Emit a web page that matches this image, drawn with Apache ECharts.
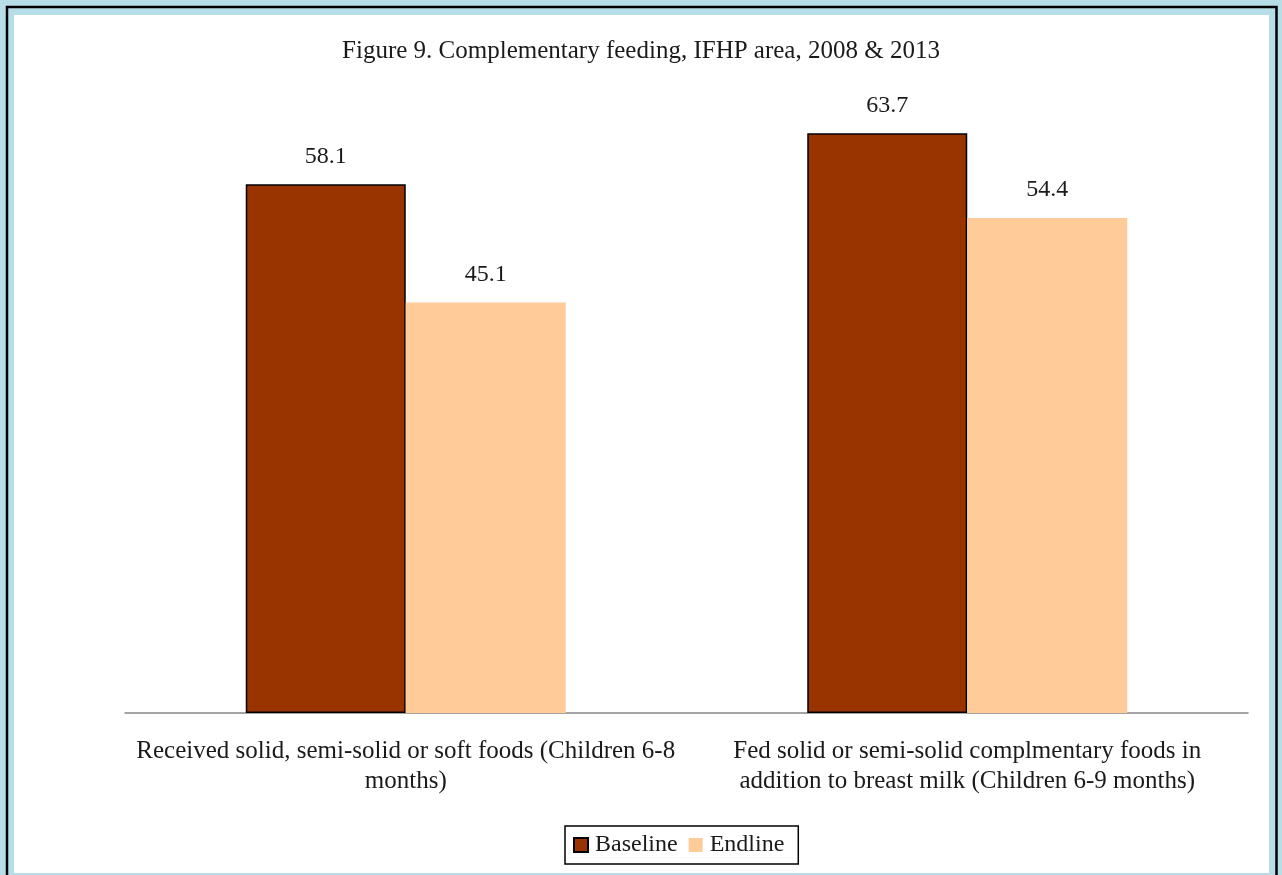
<!DOCTYPE html>
<html>
<head>
<meta charset="utf-8">
<script src="https://cdn.jsdelivr.net/npm/echarts@6/dist/echarts.min.js"></script>
<style>
  html, body { margin: 0; padding: 0; background: #B7DDE8; }
  #chart { width: 1282px; height: 875px; }
</style>
</head>
<body>
<div id="chart"></div>
<script>
// Complementary feeding indicators, baseline (2008) vs endline (2013)
const categories = [
  'Received solid, semi-solid or soft foods (Children 6-8\nmonths)',
  'Fed solid or semi-solid complmentary foods in\naddition to breast milk (Children 6-9 months)'
];
const baseline = [58.1, 63.7];
const endline = [45.1, 54.4];
const seriesNames = ['Baseline', 'Endline'];

const FONT = '"Liberation Serif", "DejaVu Serif", serif';
const TEXT = '#1a1a1a';

const chart = echarts.init(document.getElementById('chart'), null, { renderer: 'canvas' });

chart.setOption({
  backgroundColor: '#B7DDE8',
  animation: false,
  graphic: [
    {
      type: 'rect', z: -10, silent: true,
      shape: { x: 7, y: 7, width: 1269.5, height: 900 },
      style: { fill: 'none', stroke: '#000', lineWidth: 2.5 }
    },
    {
      type: 'rect', z: -9, silent: true,
      shape: { x: 14, y: 15, width: 1255, height: 858 },
      style: { fill: '#fff' }
    }
  ],
  title: {
    text: 'Figure 9. Complementary feeding, IFHP area, 2008 & 2013',
    left: 'center',
    top: 34,
    textStyle: { fontFamily: FONT, fontSize: 25, fontWeight: 'normal', color: TEXT }
  },
  legend: {
    data: seriesNames,
    bottom: 11,
    left: 565,
    borderColor: '#000',
    borderWidth: 1.5,
    padding: [7, 14, 7, 8],
    itemWidth: 14,
    itemHeight: 14,
    itemGap: 11,
    icon: 'rect',
    textStyle: { fontFamily: FONT, fontSize: 24, color: TEXT, padding: [0, 0, 0, 2] }
  },
  grid: { left: 125, right: 34, top: 76, bottom: 162, containLabel: false },
  xAxis: {
    type: 'category',
    data: categories,
    axisLine: { lineStyle: { color: '#868686', width: 1.5 } },
    axisTick: { show: false },
    axisLabel: {
      fontFamily: FONT, fontSize: 25, color: TEXT,
      lineHeight: 30, margin: 23, interval: 0, align: 'center'
    }
  },
  yAxis: {
    type: 'value', min: 0, max: 70, show: false,
    splitLine: { show: false }
  },
  series: [
    {
      name: seriesNames[0], type: 'bar', data: baseline,
      barWidth: 160, barGap: '0%',
      itemStyle: { color: '#993300', borderColor: '#000', borderWidth: 1.5 },
      label: {
        show: true, position: 'top', distance: 16,
        fontFamily: FONT, fontSize: 24, color: TEXT
      }
    },
    {
      name: seriesNames[1], type: 'bar', data: endline,
      barWidth: 160, barGap: '0%',
      itemStyle: { color: '#FFCC99' },
      label: {
        show: true, position: 'top', distance: 16,
        fontFamily: FONT, fontSize: 24, color: TEXT
      }
    }
  ]
});
</script>
</body>
</html>
